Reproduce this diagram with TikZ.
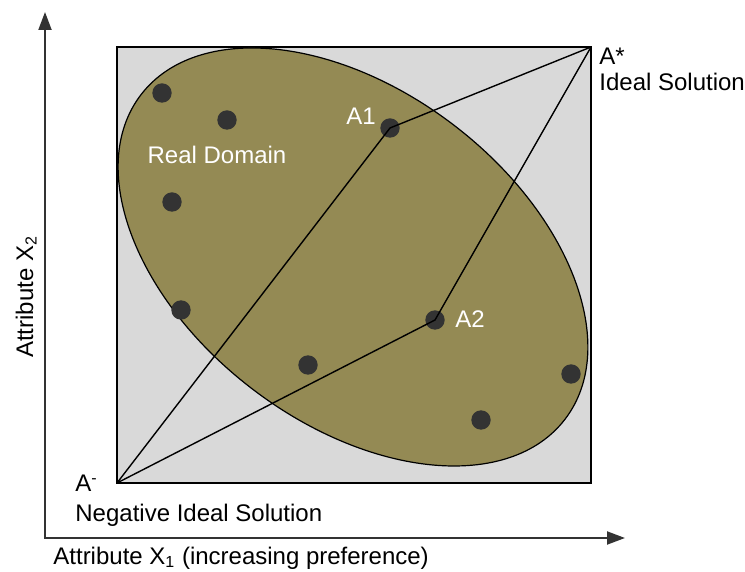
\documentclass[tikz,border=0pt]{standalone}
\usepackage{fontspec}
\setmainfont{Liberation Sans}
\usetikzlibrary{arrows.meta,positioning}
\definecolor{ink}{HTML}{000000}
\definecolor{axis}{HTML}{333333}
\definecolor{plane}{HTML}{D9D9D9}
\definecolor{domain}{HTML}{948A54}
\definecolor{dot}{HTML}{333333}
\tikzset{
  alt/.style={circle, fill=dot, inner sep=0pt, minimum size=9.7pt},
  lbl/.style={font=\fontsize{12}{14}\selectfont, text=ink, inner sep=0pt},
  wlbl/.style={lbl, text=white},
  ax/.style={-{Triangle[length=9pt,width=6.5pt]}, draw=axis, line width=1pt},
  ln/.style={draw=ink, line width=0.7pt},
}
\begin{document}
\begin{tikzpicture}[x=0.5pt,y=-0.5pt]
    \useasboundingbox (0,0) rectangle (745,572);
    % axes
    \coordinate (O) at (45,538);
    \coordinate (ytip) at (45,12);
    \coordinate (xtip) at (625,538);
    \draw[ax] (O) -- (ytip);
    \draw[ax] ([xshift=-0.5pt]O) -- (xtip);
    % attribute plane and real domain
    \coordinate (Aneg) at (117,483);
    \coordinate (Apos) at (591,47);
    \coordinate (ctr) at (353,257);
    \draw[fill=plane, draw=ink, line width=0.6pt] (Aneg) rectangle (Apos);
    \draw[fill=domain, draw=ink, line width=0.6pt, rotate around={-37.4:(ctr)}]
      (ctr) ellipse [x radius=133.5pt, y radius=83pt];
    % alternatives
    \node[alt] (d1) at (162,93) {};
    \node[alt] (d2) at (227,120) {};
    \node[alt] (d3) at (172,202) {};
    \node[alt] (d4) at (181,310) {};
    \node[alt] (d5) at (308,365) {};
    \node[alt] (d6) at (481,420) {};
    \node[alt] (d7) at (571,374) {};
    \node[alt] (A1) at (390,128) {};
    \node[alt] (A2) at (435,320) {};
    \draw[ln] (Aneg) -- (A1.center) -- (Apos);
    \draw[ln] (Aneg) -- (A2.center) -- (Apos);
    % labels
    \node[wlbl, anchor=base] (a1lbl) at (361,125) {A1};
    \node[wlbl, anchor=base] (a2lbl) at (470,328) {A2};
    \node[wlbl, anchor=base] (real) at (217,164) {Real Domain};
    \node[lbl, anchor=base west] (astar) at (599,65) {A*};
    \node[lbl, anchor=base west] (ideal) at (599,91) {Ideal Solution};
    \node[lbl, anchor=base west] (aneglbl) at (75,492) {A\textsuperscript{-}};
    \node[lbl, anchor=base west] (negideal) at (75,521) {Negative Ideal Solution};
    \node[lbl, anchor=base west] (xlbl) at (53,564) {Attribute X\textsubscript{1} (increasing preference)};
    \node[lbl, anchor=base, rotate=90] (ylbl) at (33,297) {Attribute X\textsubscript{2}};
\end{tikzpicture}
\end{document}
